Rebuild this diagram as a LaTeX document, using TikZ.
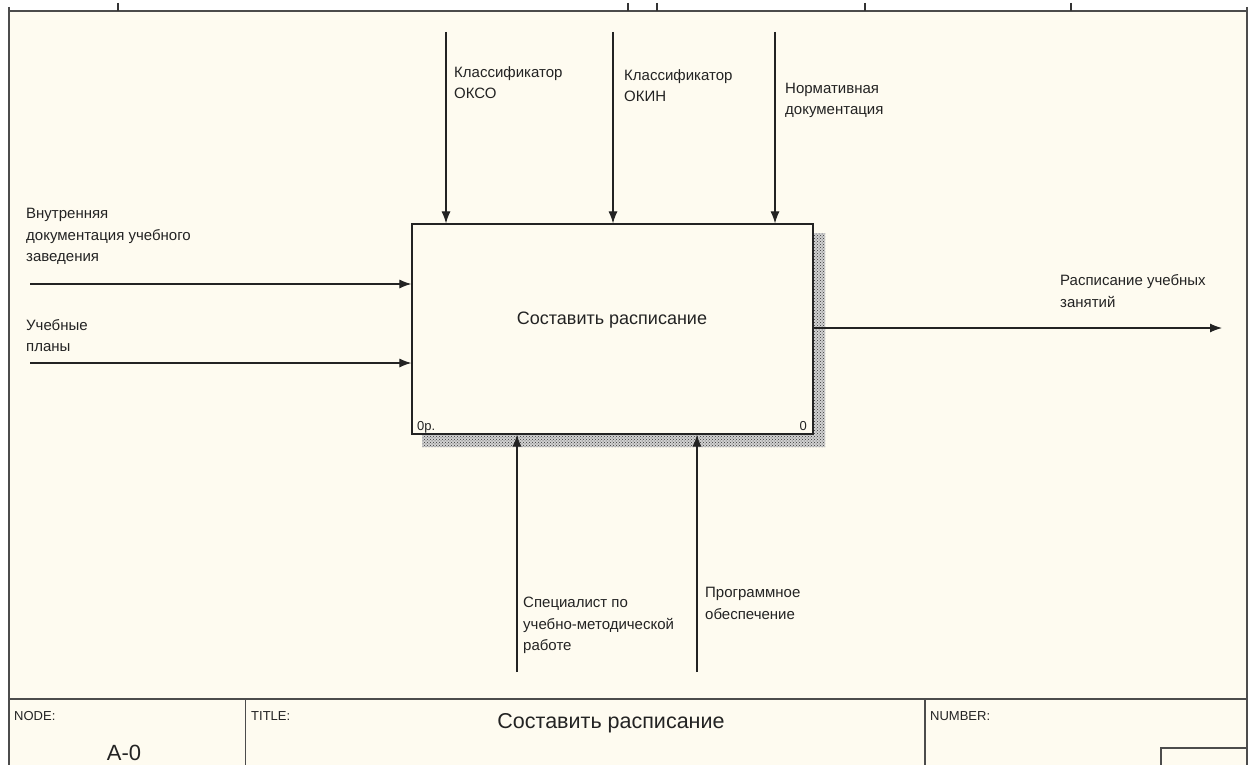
\documentclass[tikz,border=0pt]{standalone}
\usepackage{fontspec}
\setmainfont{Liberation Sans}
\usetikzlibrary{arrows.meta,patterns}
\definecolor{paper}{RGB}{254,251,240}
\definecolor{ink}{RGB}{35,35,35}
\begin{document}
\begin{tikzpicture}[x=1pt,y=-1pt,
  lbl/.style={anchor=base west,align=left,inner sep=0pt,font=\fontsize{15}{21.5}\selectfont,text=ink},
  small/.style={anchor=base west,inner sep=0pt,font=\fontsize{13}{14}\selectfont,text=ink},
  arr/.style={line width=1.1pt,draw=ink,-{Latex[length=12pt,width=9pt]}},
  frameline/.style={line width=1.3pt,draw=black!70},
  tick/.style={line width=1.3pt,draw=black!80},
  shadowbase/.style={fill=black!18},
  shadow/.style={pattern=crosshatch dots,pattern color=black!80},
  funcbox/.style={draw=ink,line width=1.2pt,fill=paper,minimum width=401pt,minimum height=210pt,inner sep=0pt}
  ]
\useasboundingbox (0,0) rectangle (1253,765);
\fill[white] (0,0) rectangle (1253,765);
\fill[paper] (9,11) rectangle (1247,765);

% top strip
\draw[frameline,line width=1.8pt] (9,11) -- (1247,11);
\foreach \x in {118,628,657,865,1071} \draw[tick] (\x,3) -- (\x,11);
% frame
\draw[frameline] (9,7) -- (9,765);
\draw[frameline] (1247,7) -- (1247,765);
\draw[frameline,line width=1.6pt] (9,699) -- (1247,699);
\draw[frameline] (245.5,699) -- (245.5,765);
\draw[frameline] (925,699) -- (925,765);
\draw[frameline] (1161,765) -- (1161,748) -- (1247,748);

% shadow
\path[shadowbase] (813,233) -- (825,233) -- (825,447) -- (422,447) -- (422,434) -- (813,434) -- cycle;
\fill[shadow] (813,233) -- (825,233) -- (825,447) -- (422,447) -- (422,434) -- (813,434) -- cycle;
% main box
\node[funcbox] (box) at (612.5,329) {};
\node[anchor=base,inner sep=0pt,font=\fontsize{18}{20}\selectfont,text=ink] (boxtitle) at (612,324) {Составить расписание};
\node[small] (cost) at (417,430) {0р.};
\node[small,anchor=base east] (num) at (807,430) {0};

% controls (label anchors at baseline of last line)
\coordinate (c1) at (446,32);
\coordinate (c2) at (613,32);
\coordinate (c3) at (775,32);
\draw[arr] (c1) -- (c1 |- box.north);
\draw[arr] (c2) -- (c2 |- box.north);
\draw[arr] (c3) -- (c3 |- box.north);
\node[lbl] (lc1) at (454,99) {Классификатор\\ОКСО};
\node[lbl] (lc2) at (624,102) {Классификатор\\ОКИН};
\node[lbl] (lc3) at (785,115) {Нормативная\\документация};

% inputs
\coordinate (i1) at (30,284);
\coordinate (i2) at (30,363);
\draw[arr] (i1) -- (i1 -| box.west);
\draw[arr] (i2) -- (i2 -| box.west);
\node[lbl] (li1) at (26,261.5) {Внутренняя\\документация учебного\\заведения};
\node[lbl] (li2) at (26,351.5) {Учебные\\планы};

% output
\coordinate (o1) at (1222,328);
\draw[arr] (box.east |- o1) -- (o1);
\node[lbl] (lo1) at (1060,307) {Расписание учебных\\занятий};

% mechanisms
\coordinate (m1) at (517,672);
\coordinate (m2) at (697,672);
\draw[arr] (m1) -- (m1 |- box.south);
\draw[arr] (m2) -- (m2 |- box.south);
\node[lbl] (lm1) at (523,650.5) {Специалист по\\учебно-методической\\работе};
\node[lbl] (lm2) at (705,619) {Программное\\обеспечение};

% title block
\node[small] (nodelbl) at (14,720) {NODE:};
\node[small] (titlelbl) at (251,720) {TITLE:};
\node[small] (numlbl) at (930,720) {NUMBER:};
\node[anchor=base,inner sep=0pt,font=\fontsize{22}{24}\selectfont,text=ink] (nodeval) at (124,760) {A-0};
\node[anchor=base,inner sep=0pt,font=\fontsize{21.5}{24}\selectfont,text=ink] (titleval) at (611,728) {Составить расписание};
\end{tikzpicture}
\end{document}
